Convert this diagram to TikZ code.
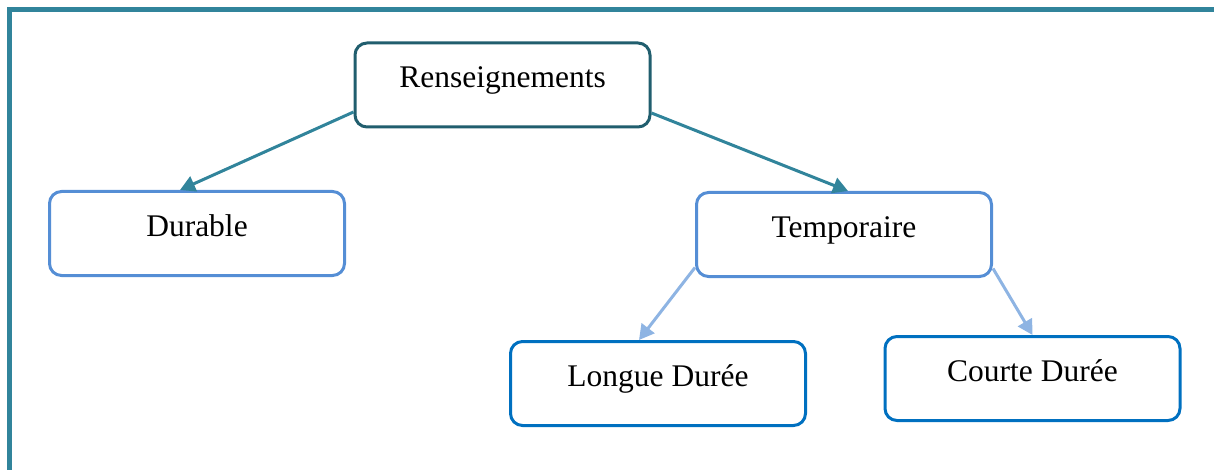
\documentclass[tikz,border=0pt]{standalone}
\usepackage{fontspec}
\setmainfont{Liberation Serif}
\usetikzlibrary{arrows.meta}
\definecolor{frameteal}{HTML}{31849B}
\definecolor{rootline}{HTML}{215E6E}
\definecolor{midline}{HTML}{558ED5}
\definecolor{leafline}{HTML}{0070C0}
\definecolor{lightarrow}{HTML}{8EB4E3}
\tikzset{
  box/.style={draw, line width=3pt, rounded corners=12pt, fill=white,
    minimum width=295pt, minimum height=84pt, inner sep=0pt,
    text height=20pt, text depth=14pt,
    font=\fontsize{31.5}{36}\selectfont},
  rootbox/.style={box, draw=rootline},
  midbox/.style={box, draw=midline},
  leafbox/.style={box, draw=leafline},
  tealarrow/.style={draw=frameteal, line width=3pt,
    -{Triangle[length=15pt,width=16pt]}},
  lightarr/.style={draw=lightarrow, line width=3pt,
    -{Triangle[length=15pt,width=16pt]}}
}
\begin{document}
\begin{tikzpicture}[x=1pt,y=-1pt]
  \useasboundingbox (0,0) rectangle (1214,470);
  % outer frame
  \draw[frameteal, line width=5pt] (9,9.5) rectangle (1216,480);

  % boxes
  \node[rootbox] (ren) at (502.5,85)   {Renseignements};
  \node[midbox]  (dur) at (197,233.5)  {Durable};
  \node[midbox]  (tmp) at (844,234.5)  {Temporaire};
  \node[leafbox] (lon) at (658,383.5)  {Longue Durée};
  \node[leafbox] (cou) at (1032.5,378.5) {Courte Durée};

  % connectors
  \draw[tealarrow] ([yshift=-27pt]ren.west) -- ([xshift=-17pt]dur.north);
  \draw[tealarrow] ([yshift=-28pt]ren.east) -- ([xshift=4pt]tmp.north);
  \draw[lightarr]  ([yshift=-33pt]tmp.west) -- ([xshift=-19pt]lon.north);
  \draw[lightarr]  ([yshift=-34pt]tmp.east) -- (cou.north);
\end{tikzpicture}
\end{document}
